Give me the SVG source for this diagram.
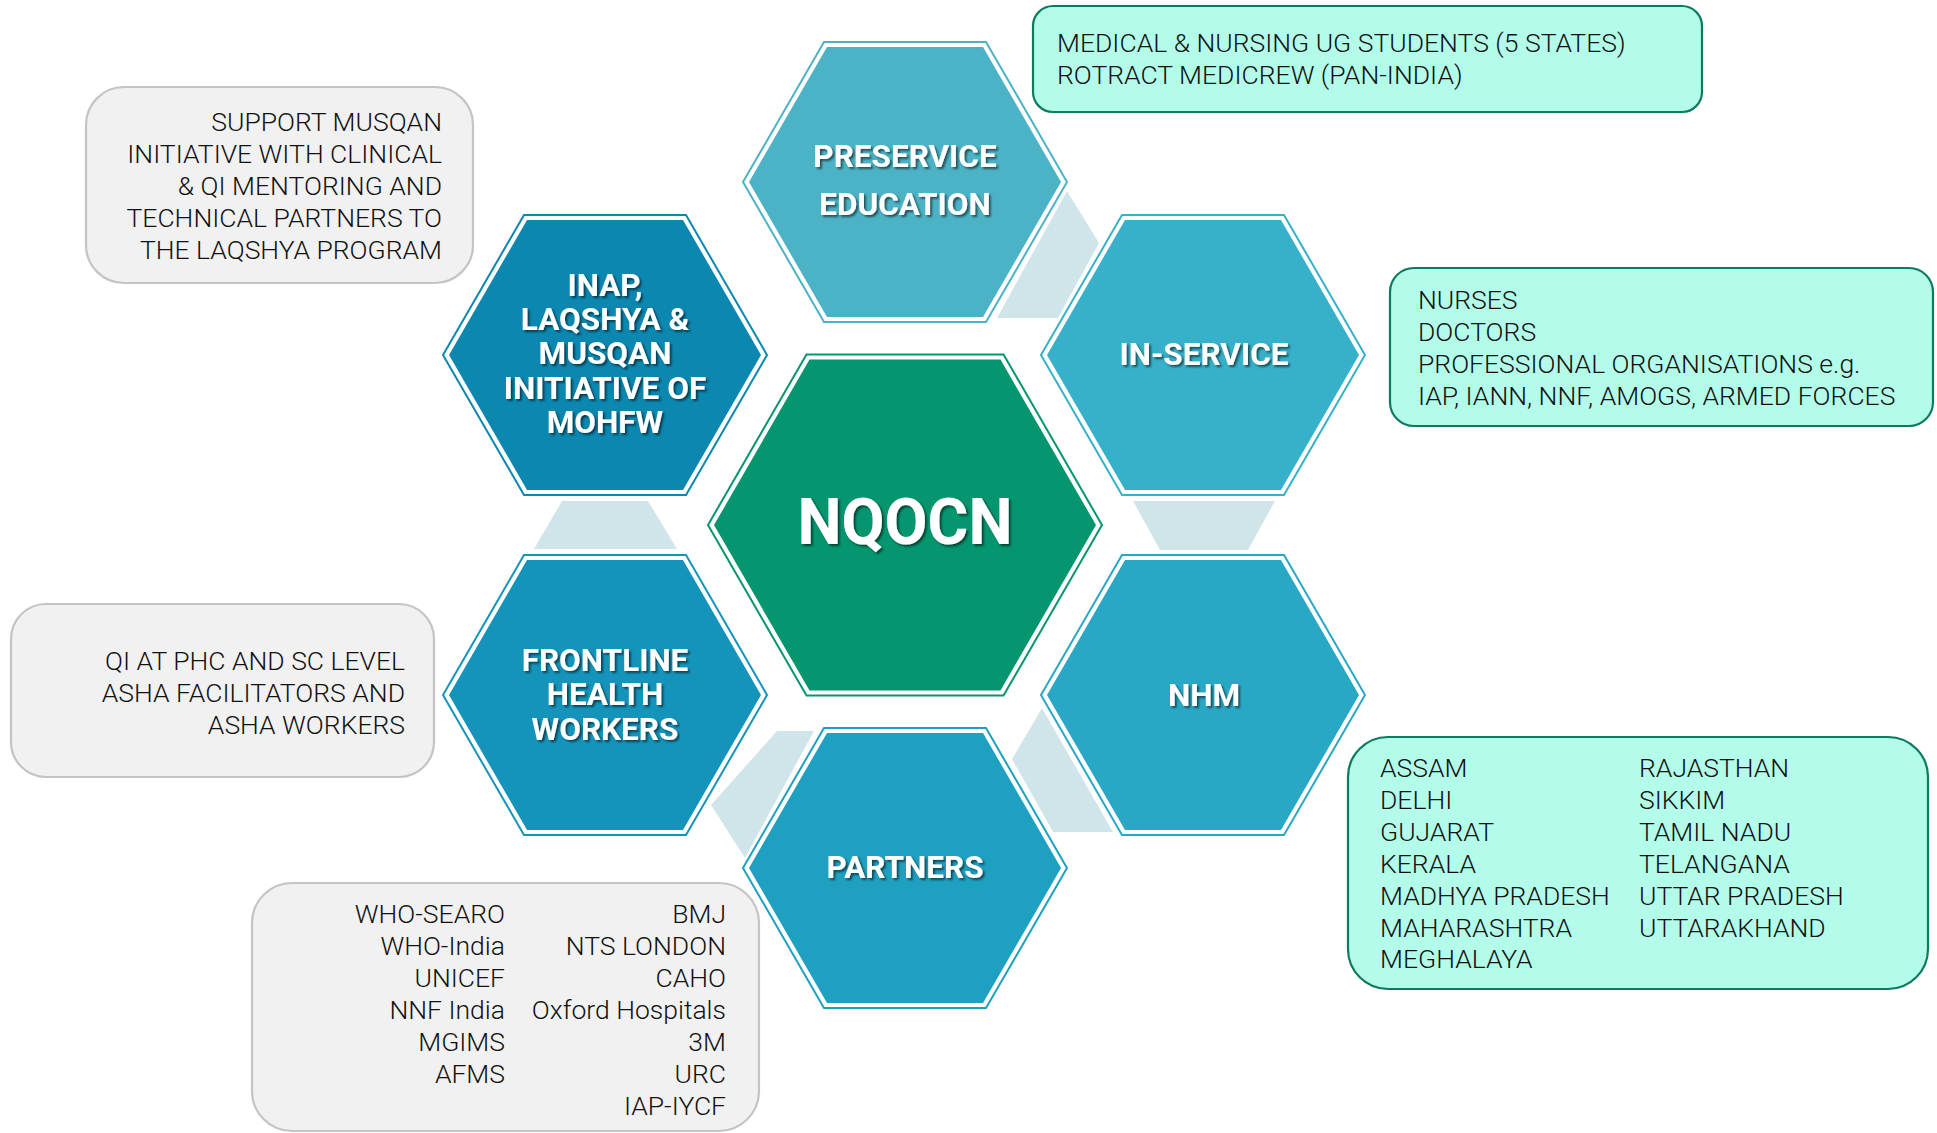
<svg xmlns="http://www.w3.org/2000/svg" width="1937" height="1133" viewBox="0 0 1937 1133">
<defs>
<filter id="ts" x="-20%" y="-40%" width="140%" height="180%">
<feDropShadow dx="2" dy="2" stdDeviation="1.2" flood-color="#000" flood-opacity="0.55"/>
</filter>
<style>
.halo{fill:#fff;stroke:#fff;stroke-width:6;stroke-linejoin:miter}
.ol{fill:#fff;stroke-width:2}
.hl{font-family:Roboto,"Liberation Sans",sans-serif;font-weight:700;fill:#fff;text-anchor:middle;font-size:31.5px;filter:url(#ts)}
.big{font-size:65px}
.bt{font-family:Roboto,"Liberation Sans",sans-serif;font-weight:300;fill:#111;font-size:26.5px}
.end{text-anchor:end}
.cyan{fill:#b4fcea;stroke:#0e7a60;stroke-width:2.2}
.gray{fill:#f1f1f1;stroke:#c4c4c4;stroke-width:2.2}
.conn{fill:#d0e5ea}
</style>
</defs>
<rect width="1937" height="1133" fill="#fff"/>

<g id="connectors">
<polygon class="conn" points="1067,191 1099,243 1058,318 997,318"/>
<polygon class="conn" points="1133,501 1275,501 1248,550 1160,550"/>
<polygon class="conn" points="562,501 648,501 677,549 534,549"/>
<polygon class="conn" points="777,731 814,731 745,858 711,805"/>
<polygon class="conn" points="1042,708 1113,832 1053,832 1012,759"/>
</g>

<g id="hex-nqocn">
<polygon class="halo" points="708,525 806.5,354.4 1003.5,354.4 1102,525 1003.5,695.6 806.5,695.6"/>
<polygon class="ol" stroke="#05956f" points="708,525 806.5,354.4 1003.5,354.4 1102,525 1003.5,695.6 806.5,695.6"/>
<polygon fill="#05956f" points="714,525 809.5,359.6 1000.5,359.6 1096,525 1000.5,690.4 809.5,690.4"/>
<text class="hl big" x="905" y="544" textLength="215" lengthAdjust="spacingAndGlyphs">NQOCN</text>
</g>

<g id="hex-preservice">
<polygon class="halo" points="743,182 824,42 986,42 1067,182 986,322 824,322"/>
<polygon class="ol" stroke="#4bb3c5" points="743,182 824,42 986,42 1067,182 986,322 824,322"/>
<polygon fill="#4bb3c5" points="749,182 827,47 983,47 1061,182 983,317 827,317"/>
<text class="hl" x="905" y="167">PRESERVICE</text>
<text class="hl" x="905" y="215">EDUCATION</text>
</g>

<g id="hex-inap">
<polygon class="halo" points="443,355 524,215 686,215 767,355 686,495 524,495"/>
<polygon class="ol" stroke="#0b87b0" points="443,355 524,215 686,215 767,355 686,495 524,495"/>
<polygon fill="#0b87b0" points="449,355 527,220 683,220 761,355 683,490 527,490"/>
<text class="hl" x="605" y="296">INAP,</text>
<text class="hl" x="605" y="330">LAQSHYA &amp;</text>
<text class="hl" x="605" y="364">MUSQAN</text>
<text class="hl" x="605" y="399">INITIATIVE OF</text>
<text class="hl" x="605" y="433">MOHFW</text>
</g>

<g id="hex-frontline">
<polygon class="halo" points="443,695 524,555 686,555 767,695 686,835 524,835"/>
<polygon class="ol" stroke="#1594bb" points="443,695 524,555 686,555 767,695 686,835 524,835"/>
<polygon fill="#1594bb" points="449,695 527,560 683,560 761,695 683,830 527,830"/>
<text class="hl" x="605" y="671">FRONTLINE</text>
<text class="hl" x="605" y="705">HEALTH</text>
<text class="hl" x="605" y="740">WORKERS</text>
</g>

<g id="hex-inservice">
<polygon class="halo" points="1041,355 1122,215 1284,215 1365,355 1284,495 1122,495"/>
<polygon class="ol" stroke="#36b1c9" points="1041,355 1122,215 1284,215 1365,355 1284,495 1122,495"/>
<polygon fill="#36b1c9" points="1047,355 1125,220 1281,220 1359,355 1281,490 1125,490"/>
<text class="hl" x="1204" y="365">IN-SERVICE</text>
</g>

<g id="hex-nhm">
<polygon class="halo" points="1041,695 1122,555 1284,555 1365,695 1284,835 1122,835"/>
<polygon class="ol" stroke="#29a8c6" points="1041,695 1122,555 1284,555 1365,695 1284,835 1122,835"/>
<polygon fill="#29a8c6" points="1047,695 1125,560 1281,560 1359,695 1281,830 1125,830"/>
<text class="hl" x="1204" y="706">NHM</text>
</g>

<g id="hex-partners">
<polygon class="halo" points="743,868 824,728 986,728 1067,868 986,1008 824,1008"/>
<polygon class="ol" stroke="#1ea0c1" points="743,868 824,728 986,728 1067,868 986,1008 824,1008"/>
<polygon fill="#1ea0c1" points="749,868 827,733 983,733 1061,868 983,1003 827,1003"/>
<text class="hl" x="905" y="878">PARTNERS</text>
</g>

<g id="box-preservice">
<rect class="cyan" x="1033" y="6" width="669" height="106" rx="20"/>
<text class="bt" x="1057" y="52">MEDICAL &amp; NURSING UG STUDENTS (5 STATES)</text>
<text class="bt" x="1057" y="84">ROTRACT MEDICREW (PAN-INDIA)</text>
</g>

<g id="box-inservice">
<rect class="cyan" x="1390" y="268" width="543" height="158" rx="24"/>
<text class="bt" x="1418" y="309">NURSES</text>
<text class="bt" x="1418" y="341">DOCTORS</text>
<text class="bt" x="1418" y="373">PROFESSIONAL ORGANISATIONS e.g.</text>
<text class="bt" x="1418" y="405">IAP, IANN, NNF, AMOGS, ARMED FORCES</text>
</g>

<g id="box-nhm">
<rect class="cyan" x="1348" y="737" width="580" height="252" rx="40"/>
<text class="bt" x="1380" y="777">ASSAM</text>
<text class="bt" x="1380" y="809">DELHI</text>
<text class="bt" x="1380" y="841">GUJARAT</text>
<text class="bt" x="1380" y="873">KERALA</text>
<text class="bt" x="1380" y="905">MADHYA PRADESH</text>
<text class="bt" x="1380" y="937">MAHARASHTRA</text>
<text class="bt" x="1380" y="968">MEGHALAYA</text>
<text class="bt" x="1639" y="777">RAJASTHAN</text>
<text class="bt" x="1639" y="809">SIKKIM</text>
<text class="bt" x="1639" y="841">TAMIL NADU</text>
<text class="bt" x="1639" y="873">TELANGANA</text>
<text class="bt" x="1639" y="905">UTTAR PRADESH</text>
<text class="bt" x="1639" y="937">UTTARAKHAND</text>
</g>

<g id="box-inap">
<rect class="gray" x="86" y="87" width="387" height="196" rx="38"/>
<text class="bt end" x="442" y="131">SUPPORT MUSQAN</text>
<text class="bt end" x="442" y="163">INITIATIVE WITH CLINICAL</text>
<text class="bt end" x="442" y="195">&amp; QI MENTORING AND</text>
<text class="bt end" x="442" y="227">TECHNICAL PARTNERS TO</text>
<text class="bt end" x="442" y="259">THE LAQSHYA PROGRAM</text>
</g>

<g id="box-frontline">
<rect class="gray" x="11" y="604" width="423" height="173" rx="35"/>
<text class="bt end" x="405" y="670">QI AT PHC AND SC LEVEL</text>
<text class="bt end" x="405" y="702">ASHA FACILITATORS AND</text>
<text class="bt end" x="405" y="734">ASHA WORKERS</text>
</g>

<g id="box-partners">
<rect class="gray" x="252" y="883" width="507" height="248" rx="40"/>
<text class="bt end" x="505" y="923">WHO-SEARO</text>
<text class="bt end" x="505" y="955">WHO-India</text>
<text class="bt end" x="505" y="987">UNICEF</text>
<text class="bt end" x="505" y="1019">NNF India</text>
<text class="bt end" x="505" y="1051">MGIMS</text>
<text class="bt end" x="505" y="1083">AFMS</text>
<text class="bt end" x="726" y="923">BMJ</text>
<text class="bt end" x="726" y="955">NTS LONDON</text>
<text class="bt end" x="726" y="987">CAHO</text>
<text class="bt end" x="726" y="1019">Oxford Hospitals</text>
<text class="bt end" x="726" y="1051">3M</text>
<text class="bt end" x="726" y="1083">URC</text>
<text class="bt end" x="726" y="1115">IAP-IYCF</text>
</g>
</svg>
